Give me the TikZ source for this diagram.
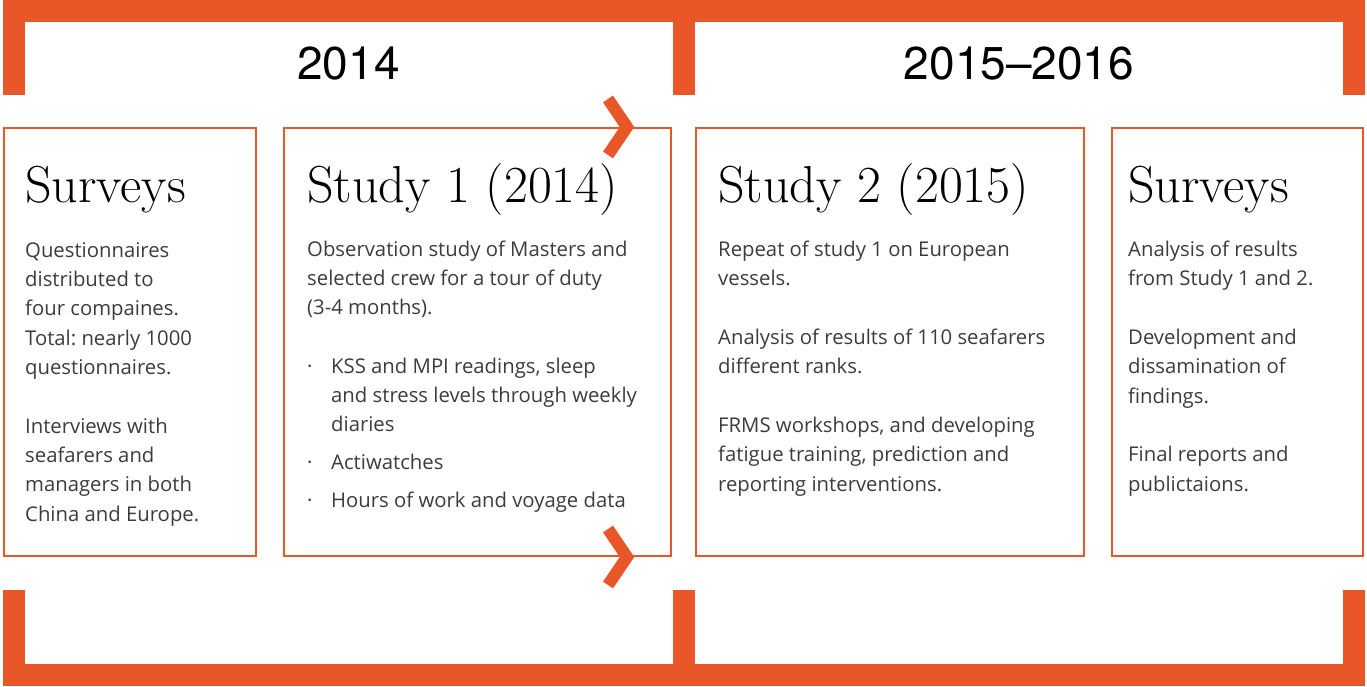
\documentclass[tikz,border=0pt]{standalone}
\usepackage{fontspec}
\setmainfont{Open Sans}
\newfontfamily\yearfont{TeX Gyre Heros}
\newfontfamily\headfont{Latin Modern Roman}
\usetikzlibrary{positioning}
\frenchspacing
\definecolor{rust}{HTML}{E95628}
\definecolor{ink}{HTML}{3C3C3C}
\tikzset{
	frame/.style={draw=rust, line width=22pt, line join=miter},
	panel/.style={draw=rust, line width=2pt},
	chevron/.style={draw=rust, line width=12pt, line join=miter},
	year/.style={font=\yearfont\fontsize{46}{50}\selectfont, inner sep=0pt},
	heading/.style={font=\headfont\fontsize{52}{56}\selectfont, anchor=base west, inner sep=0pt},
	body/.style={font=\fontsize{20.3}{29.3}\selectfont, text=ink, anchor=base west, align=left, inner sep=0pt}
}
\newcommand{\itm}{\makebox[24pt][l]{·}}
\newcommand{\cnt}{\hspace*{24pt}}
\begin{document}
\begin{tikzpicture}[x=1pt, y=-1pt]
	\useasboundingbox (0,0) rectangle (1367,686);
	\draw[frame] (14,95) -- (14,11) -- (1354,11) -- (1354,95);
	\draw[frame] (683.5,11) -- (683.5,95);
	\draw[frame] (14,590) -- (14,674.5) -- (1354,674.5) -- (1354,590);
	\draw[frame] (683.5,674.5) -- (683.5,590);
	\draw[panel] (4,128) rectangle (256,556);
	\draw[panel] (284,128) rectangle (671,556);
	\draw[panel] (696,128) rectangle (1084,556);
	\draw[panel] (1112,128) rectangle (1363,556);
	\draw[chevron] (608,99) -- (627,127) -- (608,155);
	\draw[chevron] (608,529) -- (627,557) -- (608,585);
	\node[year] (y1) at (348.5,64) {2014};
	\node[year] (y2) at (1019,64) {2015–2016};
	\node[heading] (h1) at (25,202) {Surveys};
	\node[heading] (h2) at (307,202) {Study 1 (2014)};
	\node[heading] (h3) at (718,202) {Study 2 (2015)};
	\node[heading] (h4) at (1128,202) {Surveys};
	\node[body] (b1) at (25,521) {Questionnaires\\distributed to\\four compaines.\\Total: nearly 1000\\questionnaires.\\[29.3pt]Interviews with\\seafarers and\\managers in both\\China and Europe.};
	\node[body] (b2) at (307,507) {Observation study of Masters and\\selected crew for a tour of duty\\(3-4 months).\\[29.3pt]\itm KSS and MPI readings, sleep\\\cnt and stress levels through weekly\\\cnt diaries\\[8.5pt]\itm Actiwatches\\[8pt]\itm Hours of work and voyage data};
	\node[body] (b3) at (718,491) {Repeat of study 1 on European\\vessels.\\[29.3pt]Analysis of results of 110 seafarers\\different ranks.\\[29.3pt]FRMS workshops, and developing\\fatigue training, prediction and\\reporting interventions.};
	\node[body] (b4) at (1128,491) {Analysis of results\\from Study 1 and 2.\\[29.3pt]Development and\\dissamination of\\findings.\\[29.3pt]Final reports and\\publictaions.};
\end{tikzpicture}
\end{document}
